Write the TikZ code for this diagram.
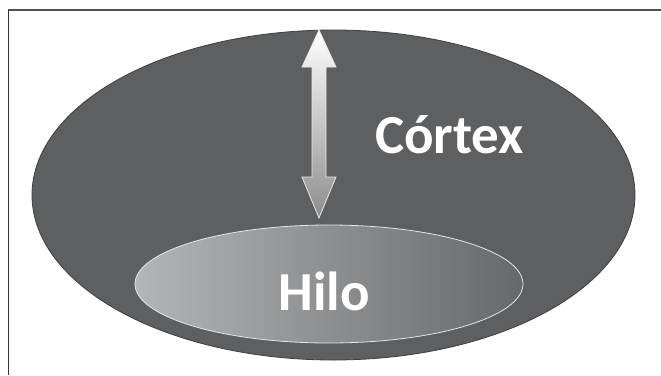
\documentclass[tikz,border=0pt]{standalone}
\usepackage{fontspec}
\setmainfont{Carlito}
\begin{document}
\begin{tikzpicture}[x=1pt,y=-1pt,
  label/.style={text=white,font=\fontsize{55}{60}\selectfont\bfseries,inner sep=0pt,anchor=base}]
\definecolor{cortexgray}{HTML}{5E5F61}
\definecolor{rimgray}{HTML}{3E3F41}
\definecolor{hilolight}{HTML}{B4B5B7}
\definecolor{hilodark}{HTML}{67686A}
\definecolor{framegray}{HTML}{505050}
\useasboundingbox (0,0) rectangle (661,375);
\fill[white] (0,0) rectangle (661,375);
% frame lines
\draw[framegray,line width=2pt] (8,10) -- (661,10);
\draw[black!80,line width=1.4pt] (8.5,10) -- (8.5,375);
% cortex
\draw[rimgray,line width=0.8pt,fill=cortexgray] (333.5,195) ellipse [x radius=301.5,y radius=165];
% hilum with light rim
\draw[line width=0.8pt,draw=white!80!gray,left color=hilolight,right color=hilodark]
  (329,284) ellipse [x radius=194,y radius=59];
% double arrow
\draw[line width=0.8pt,draw=white!82!gray,top color=white,bottom color=black!45]
  (319,30) -- (336,67) -- (326,67) -- (326,177) -- (336,177) -- (319,218)
  -- (302,177) -- (312,177) -- (312,67) -- (302,67) -- cycle;
% labels
\node[label] (cortex) at (449.5,153) {Córtex};
\node[label] (hilo) at (324,310) {Hilo};
\end{tikzpicture}
\end{document}
